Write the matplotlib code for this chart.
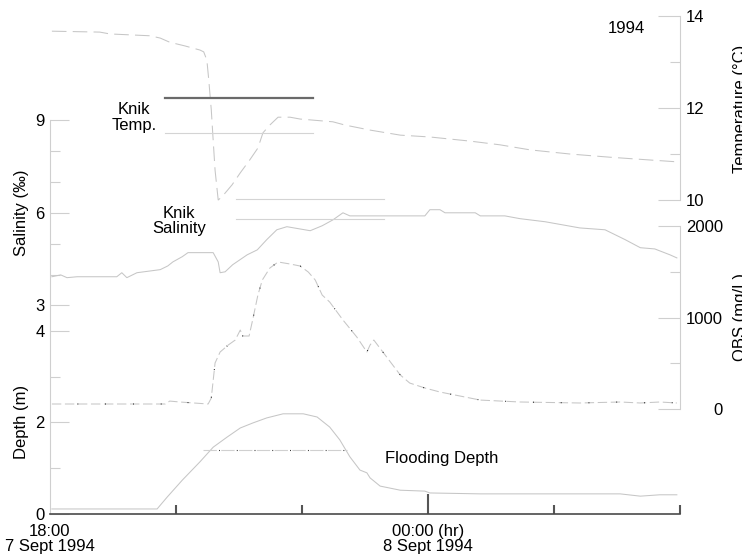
import numpy as np
import matplotlib.pyplot as plt

plt.rcParams['font.family'] = ['Liberation Sans', 'DejaVu Sans']
plt.rcParams['font.size'] = 12

# Time in hours after 18:00, 7 Sept 1994
temp_h = [0.03, 0.79, 0.95, 1.59, 1.75, 1.90, 2.14, 2.38, 2.44, 2.49, 2.52, 2.56, 2.59,
          2.62, 2.67, 2.73, 2.89, 3.02, 3.17, 3.30, 3.38, 3.49, 3.62, 3.81, 3.97, 4.49,
          4.68, 5.08, 5.56, 6.03, 6.67, 7.14, 7.62, 8.25, 8.89, 9.52, 9.95]
temp_c = [13.67, 13.65, 13.61, 13.57, 13.52, 13.43, 13.35, 13.26, 13.22, 13.04, 12.61,
          11.96, 11.30, 10.65, 10.00, 10.07, 10.33, 10.59, 10.87, 11.13, 11.46, 11.63,
          11.80, 11.80, 11.76, 11.70, 11.63, 11.52, 11.41, 11.37, 11.28, 11.20, 11.09,
          11.00, 10.93, 10.87, 10.83]

sal_h = [0.03, 0.17, 0.27, 0.43, 1.06, 1.14, 1.22, 1.38, 1.75, 1.87, 1.95, 2.10, 2.19,
         2.38, 2.59, 2.67, 2.70, 2.78, 2.90, 3.13, 3.29, 3.44, 3.60, 3.76, 4.13, 4.32,
         4.49, 4.65, 4.76, 5.95, 6.03, 6.19, 6.27, 6.75, 6.83, 7.22, 7.46, 7.86, 8.41,
         8.81, 9.13, 9.37, 9.60, 9.84, 9.95]
sal_ppt = [3.93, 3.99, 3.90, 3.93, 3.93, 4.06, 3.90, 4.06, 4.16, 4.28, 4.41, 4.58, 4.71,
           4.71, 4.71, 4.41, 4.06, 4.09, 4.32, 4.64, 4.80, 5.13, 5.45, 5.55, 5.42, 5.58,
           5.77, 6.00, 5.90, 5.90, 6.10, 6.10, 6.00, 6.00, 5.90, 5.90, 5.81, 5.71, 5.51,
           5.45, 5.13, 4.87, 4.83, 4.64, 4.54]

obs_h = [0.03, 1.83, 1.90, 2.06, 2.51, 2.56, 2.62, 2.70, 2.83, 2.94, 3.02, 3.06, 3.16,
         3.22, 3.30, 3.37, 3.49, 3.62, 3.81, 3.97, 4.10, 4.21, 4.32, 4.44, 4.65, 4.87,
         5.03, 5.08, 5.14, 5.32, 5.56, 5.71, 5.95, 6.19, 6.51, 6.83, 7.46, 8.41, 9.05,
         9.37, 9.68, 9.95]
obs_mgl = [55, 55, 87, 77, 55, 120, 503, 623, 700, 754, 863, 798, 798, 984, 1246, 1410,
           1541, 1607, 1585, 1563, 1497, 1410, 1246, 1169, 973, 787, 623, 699, 754, 590,
           372, 284, 230, 186, 142, 98, 77, 66, 77, 66, 77, 66]

depth_h = [0.03, 1.70, 1.86, 2.10, 2.38, 2.59, 2.81, 3.02, 3.22, 3.44, 3.70, 4.02, 4.24,
           4.44, 4.60, 4.76, 4.92, 5.03, 5.08, 5.24, 5.56, 5.95, 6.03, 6.83, 9.05, 9.37,
           9.68, 9.95]
depth_m = [0.11, 0.11, 0.37, 0.74, 1.14, 1.46, 1.68, 1.88, 1.99, 2.10, 2.19, 2.19, 2.12,
           1.90, 1.62, 1.25, 0.96, 0.90, 0.79, 0.61, 0.52, 0.50, 0.46, 0.44, 0.44, 0.39,
           0.42, 0.42]

# key lines next to the labels
key_temp_h = [1.83, 4.17]
key_temp_dark = [12.22, 12.22]
key_temp_light = [11.46, 11.46]
key_sal_h = [2.95, 5.30]
key_sal_a = [6.45, 6.45]
key_sal_b = [5.81, 5.81]
key_flood_h = [2.43, 4.71]
key_flood = [1.40, 1.40]

x_ticks = [0, 6]
x_labels = ['18:00\n7 Sept 1994', '00:00 (hr)\n8 Sept 1994']

line_c = '#c6c6c6'
axis_c = '#cfcfcf'

fig = plt.figure(figsize=(7.42, 5.6), dpi=100)
rect = [50 / 742, 46 / 560, 630 / 742, 498 / 560]
ax_d = fig.add_axes(rect)
ax_s = fig.add_axes(rect, label='sal')
ax_t = fig.add_axes(rect, label='temp')
ax_o = fig.add_axes(rect, label='obs')

for a in (ax_d, ax_s, ax_t, ax_o):
    a.set_xlim(0, 10)
    a.patch.set_visible(False)
    for s in a.spines.values():
        s.set_visible(False)
for a in (ax_s, ax_t, ax_o):
    a.xaxis.set_visible(False)

ax_d.set_ylim(0, 10.885)
ax_s.set_ylim(-3.75, 12.37)
ax_t.set_ylim(3.174, 14)
ax_o.set_ylim(-1147, 4295)

# curves
ax_t.plot(temp_h, temp_c, color=line_c, lw=0.75, linestyle=(0, (14, 6)))
ax_s.plot(sal_h, sal_ppt, color=line_c, lw=0.75)
ax_o.plot(obs_h, obs_mgl, color=line_c, lw=0.75, linestyle=(0, (9, 3.5)))
ax_o.plot(obs_h, obs_mgl, color='black', lw=0.8, linestyle=(2, (0.7, 24.3)))
ax_d.plot(depth_h, depth_m, color=line_c, lw=0.75)

# keys
ax_t.plot(key_temp_h, key_temp_dark, color='#6a6a6a', lw=1.6)
ax_t.plot(key_temp_h, key_temp_light, color='#d4d4d4', lw=0.8)
ax_s.plot(key_sal_h, key_sal_a, color='#d4d4d4', lw=0.8)
ax_s.plot(key_sal_h, key_sal_b, color='#d4d4d4', lw=0.8)
ax_d.plot(key_flood_h, key_flood, color='#d0d0d0', lw=0.8, linestyle=(0, (12, 4)))
ax_d.plot(key_flood_h, key_flood, color='black', lw=0.8, linestyle=(2, (0.7, 15.3)))

# bottom time axis
ax_d.spines['bottom'].set_visible(True)
ax_d.spines['bottom'].set_color('#4a4a4a')
ax_d.spines['bottom'].set_linewidth(1.2)
ax_d.set_xticks(x_ticks)
ax_d.set_xticklabels(x_labels, linespacing=1.05)
ax_d.set_xticks([2, 4, 8, 10], minor=True)
ax_d.tick_params(axis='x', which='major', direction='in', length=14.4, width=1.5,
                 color='#555555', pad=7)
ax_d.tick_params(axis='x', which='minor', direction='in', length=6.5, width=1.5,
                 color='#555555')
ax_d.xaxis.get_major_ticks()[0].tick1line.set_visible(False)

# left axes: depth and salinity
ax_d.spines['left'].set_visible(True)
ax_d.spines['left'].set_color(axis_c)
ax_d.spines['left'].set_linewidth(0.8)
ax_d.spines['left'].set_bounds(0, 8.61)
ax_d.set_yticks([0, 2, 4])
ax_d.set_yticks([1, 3], minor=True)
ax_s.set_yticks([3, 6, 9])
ax_s.set_yticks([4, 5, 7, 8], minor=True)
for a in (ax_d, ax_s):
    a.tick_params(axis='y', which='major', direction='in', length=14, width=0.8,
                  color=axis_c, pad=4)
    a.tick_params(axis='y', which='minor', direction='in', length=7, width=0.8,
                  color=axis_c)

# right axes: temperature and OBS
for a, lo, hi in ((ax_t, 10, 14), (ax_o, 0, 2000)):
    a.yaxis.tick_right()
    a.spines['right'].set_visible(True)
    a.spines['right'].set_color(axis_c)
    a.spines['right'].set_linewidth(0.8)
    a.spines['right'].set_bounds(lo, hi)
    a.tick_params(axis='y', which='major', direction='in', length=15.6, width=0.8,
                  color=axis_c)
    a.tick_params(axis='y', which='minor', direction='in', length=7.2, width=0.8,
                  color=axis_c)
ax_t.set_yticks([10, 12, 14])
ax_t.set_yticks([11, 13], minor=True)
ax_t.tick_params(axis='y', which='major', pad=4)
ax_o.set_yticks([0, 1000, 2000])
ax_o.set_yticks([500, 1500], minor=True)
ax_o.tick_params(axis='y', which='major', pad=31)
for lbl in ax_o.get_yticklabels():
    lbl.set_horizontalalignment('right')

# labels and notes
ax_t.text(1.33, 11.80, 'Knik\nTemp.', ha='center', va='center', linespacing=1.05)
ax_s.text(2.05, 5.74, 'Knik\nSalinity', ha='center', va='center', linespacing=1.0)
ax_d.text(5.32, 1.22, 'Flooding Depth', ha='left', va='center')
ax_t.text(9.15, 13.72, '1994', ha='center', va='center')

fig.text(22 / 742, 1 - 213 / 560, 'Salinity (‰)', rotation=90, ha='center', va='center')
fig.text(22 / 742, 1 - 422 / 560, 'Depth (m)', rotation=90, ha='center', va='center')
# these two run past the right edge, as in the source figure
fig.text(740 / 742, 1 - 109 / 560, 'Temperature (°C)', rotation=90, ha='center', va='center')
fig.text(740 / 742, 1 - 317 / 560, 'OBS (mg/L)', rotation=90, ha='center', va='center')

fig.savefig('out.png', dpi=100)
